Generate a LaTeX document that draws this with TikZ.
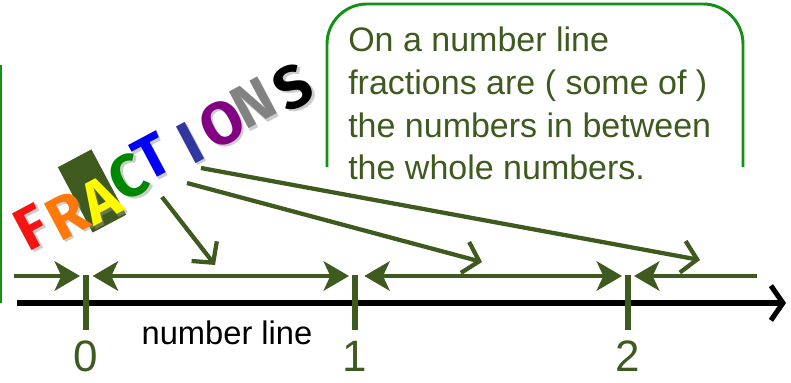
\documentclass[tikz,border=0pt]{standalone}
\usepackage{fontspec}
\setmainfont{Liberation Sans}
\newfontfamily\wordfont{Fira Sans}
\usetikzlibrary{positioning, arrows.meta, calc}
\definecolor{myGreen}{RGB}{62,90,30}
\definecolor{myBorder}{RGB}{20,145,20}
\definecolor{myRed}{RGB}{245,20,20}
\definecolor{myOrange}{RGB}{255,120,10}
\definecolor{myYellow}{RGB}{255,250,0}
\definecolor{myLeaf}{RGB}{0,135,0}
\definecolor{myBlue}{RGB}{0,0,245}
\definecolor{mySlate}{RGB}{50,55,160}
\definecolor{myPurple}{RGB}{130,0,130}
\definecolor{myGray}{RGB}{130,130,130}

\begin{document}
\begin{tikzpicture}[
  x=0.75pt, y=-0.75pt,
  border/.style={draw=myBorder, line width=2.2pt, rounded corners=30pt},
  note/.style={font=\fontsize{25.5}{32}\selectfont, text=myGreen, anchor=north west, align=left, inner sep=0pt},
  letter/.style={font=\wordfont\bfseries\fontsize{45}{45}\selectfont, rotate=28, inner sep=0pt},
  shade/.style={letter, text=black!40, opacity=0.5},
  pointer/.style={draw=myGreen, line width=3.2pt, -{Straight Barb[length=11pt, width=24pt]}},
  span/.style={draw=myGreen, line width=3.2pt, >={Stealth[length=19pt, width=22pt, inset=5pt]}},
  axis/.style={draw=black, line width=3.8pt, -{Straight Barb[length=9pt, width=26pt]}},
  tick/.style={draw=myGreen, line width=3.8pt},
  digit/.style={font=\fontsize{33}{33}\selectfont, text=myGreen, inner sep=0pt},
]
  \useasboundingbox (0,0) rectangle (791,382);

  % box and left edge
  \draw[myBorder, line width=2pt] (1,65) -- (1,303);
  \draw[border] (327,167) -- (327,4) -- (743,4) -- (743,167);
  \node[note] (msg) at (348,27)
    {On a number line\\fractions are ( some of )\\the numbers in between\\the whole numbers.};

  % the word
  \node[fill=myGreen, rotate=28, minimum width=28.5pt, minimum height=55.5pt] (abox) at (92,191) {};
  \foreach \x/\y/\ch/\col [count=\i from 0] in {32/227/F/myRed, 67/215/R/myOrange,
      100/200/A/myYellow, 128/177/C/myLeaf, 152/157/T/myBlue, 190/143/I/mySlate,
      222/123/O/myPurple, 253/103/N/myGray, 293/87/S/black} {
    \node[shade] at (\x+2.5,\y+2.5) {\ch};
    \node[letter, text=\col] (w\i) at (\x,\y) {\ch};
  }

  % pointers
  \coordinate (p1s) at (162,197); \coordinate (p1e) at (215,265);
  \coordinate (p2s) at (187,183); \coordinate (p2e) at (482,262);
  \coordinate (p3s) at (201,168); \coordinate (p3e) at (700,260);
  \draw[pointer] (p1s) -- (p1e);
  \draw[pointer] (p2s) -- (p2e);
  \draw[pointer] (p3s) -- (p3e);

  % number line
  \coordinate (n0) at (17,303); \coordinate (n1) at (786,303);
  \draw[axis] (n0) -- (n1);
  \foreach \x/\n [count=\k from 0] in {86/0, 355/1, 628/2} {
    \draw[tick] (\x,275) -- (\x,330);
    \node[digit] (d\k) at (\x,356) {\n};
    \coordinate (u\k) at (\x,276);
  }
  \node[font=\fontsize{24.5}{24.5}\selectfont, inner sep=0pt] (label) at (227,333) {number line};

  % spans
  \coordinate (sL) at (14,276); \coordinate (sR) at (757,276);
  \draw[span, ->, shorten >=4.5pt] (sL) -- (u0);
  \draw[span, <->, shorten >=4.5pt, shorten <=5pt] (u0) -- (u1);
  \draw[span, <->, shorten >=4.5pt, shorten <=7pt] (u1) -- (u2);
  \draw[span, ->, shorten >=4.5pt] (sR) -- (u2);
\end{tikzpicture}
\end{document}
